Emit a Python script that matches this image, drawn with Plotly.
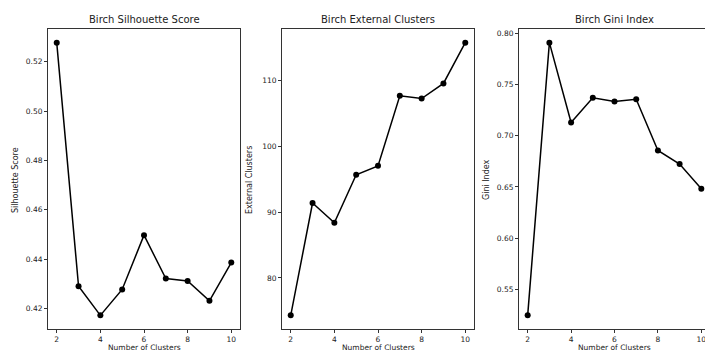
import plotly.graph_objects as go

clusters = [2, 3, 4, 5, 6, 7, 8, 9, 10]
silhouette = [0.5277, 0.4290, 0.4172, 0.4277, 0.4497, 0.4321, 0.4311, 0.4231, 0.4386]
external = [74.3, 91.4, 88.4, 95.7, 97.05, 107.7, 107.3, 109.6, 115.8]
gini = [0.5247, 0.7909, 0.7129, 0.7370, 0.7334, 0.7357, 0.6857, 0.6724, 0.6484]

titles = ["Birch Silhouette Score", "Birch External Clusters", "Birch Gini Index"]
ylabels = ["Silhouette Score", "External Clusters", "Gini Index"]
x_ticks = [2, 4, 6, 8, 10]
y_ticks = [[0.42, 0.44, 0.46, 0.48, 0.50, 0.52], [80, 90, 100, 110],
           [0.55, 0.60, 0.65, 0.70, 0.75, 0.80]]
y_fmt = ["%.2f", "%d", "%.2f"]

W, H = 705, 352


def px(x):
    return x / W


def py(y):
    return 1 - y / H


fig = go.Figure()
series = [silhouette, external, gini]
panels = [(48, 240), (282, 474), (519, 710)]
top, bottom = 29, 329
FONT = "DejaVu Sans"
TXT = "#222222"

for i, (vals, (x0, x1)) in enumerate(zip(series, panels)):
    n = "" if i == 0 else str(i + 1)
    fig.add_trace(go.Scatter(x=clusters, y=vals, mode="lines+markers",
                             line=dict(color="black", width=1.5),
                             marker=dict(color="black", size=6),
                             xaxis="x" + n, yaxis="y" + n, showlegend=False,
                             cliponaxis=False if x1 <= W else True))
    xr = [1.6, 10.4]
    d1 = px(x1)
    if x1 > W:
        ppu = (x1 - x0) / 8.8
        xr = [1.6, 1.6 + (W - x0) / ppu]
        d1 = 1.0
    lo, hi = min(vals), max(vals)
    m = (hi - lo) * 0.05
    fig.update_layout(**{
        "xaxis" + n: dict(domain=[px(x0), d1], range=xr, anchor="y" + n,
                          tickvals=x_ticks, ticks="outside", ticklen=3,
                          tickcolor="#333", showline=True, mirror=True,
                          linecolor="#333", linewidth=1, showgrid=False,
                          zeroline=False, ticklabeloverflow="allow",
                          tickfont=dict(family=FONT, size=7.5, color=TXT)),
        "yaxis" + n: dict(domain=[py(bottom), py(top)],
                          range=[lo - m, hi + m], anchor="x" + n,
                          tickvals=y_ticks[i],
                          ticktext=[y_fmt[i] % v for v in y_ticks[i]],
                          ticks="outside", ticklen=3, tickcolor="#333",
                          showline=True, mirror=(x1 <= W), linecolor="#333",
                          linewidth=1, showgrid=False, zeroline=False,
                          tickfont=dict(family=FONT, size=7.5, color=TXT)),
    })
    cx = (x0 + x1) / 2
    fig.add_annotation(text=titles[i], xref="paper", yref="paper",
                       x=px(cx), y=py(20), xanchor="center",
                       yanchor="middle", showarrow=False,
                       font=dict(family=FONT, size=10, color=TXT))
    fig.add_annotation(text="Number of Clusters", xref="paper", yref="paper",
                       x=px(cx), y=py(347), xanchor="center",
                       yanchor="middle", showarrow=False,
                       font=dict(family=FONT, size=7.5, color=TXT))
    fig.add_annotation(text=ylabels[i], xref="paper", yref="paper",
                       x=px(x0 - 33), y=py(180), xanchor="center",
                       yanchor="middle", showarrow=False, textangle=-90,
                       font=dict(family=FONT, size=8, color=TXT))

fig.update_layout(width=W, height=H, margin=dict(l=0, r=0, t=0, b=0),
                  paper_bgcolor="white", plot_bgcolor="white")
fig.write_html("out.html",
               config={"displayModeBar": False},
               post_script="document.body.style.margin='0';"
                           "document.body.style.overflow='hidden';")
